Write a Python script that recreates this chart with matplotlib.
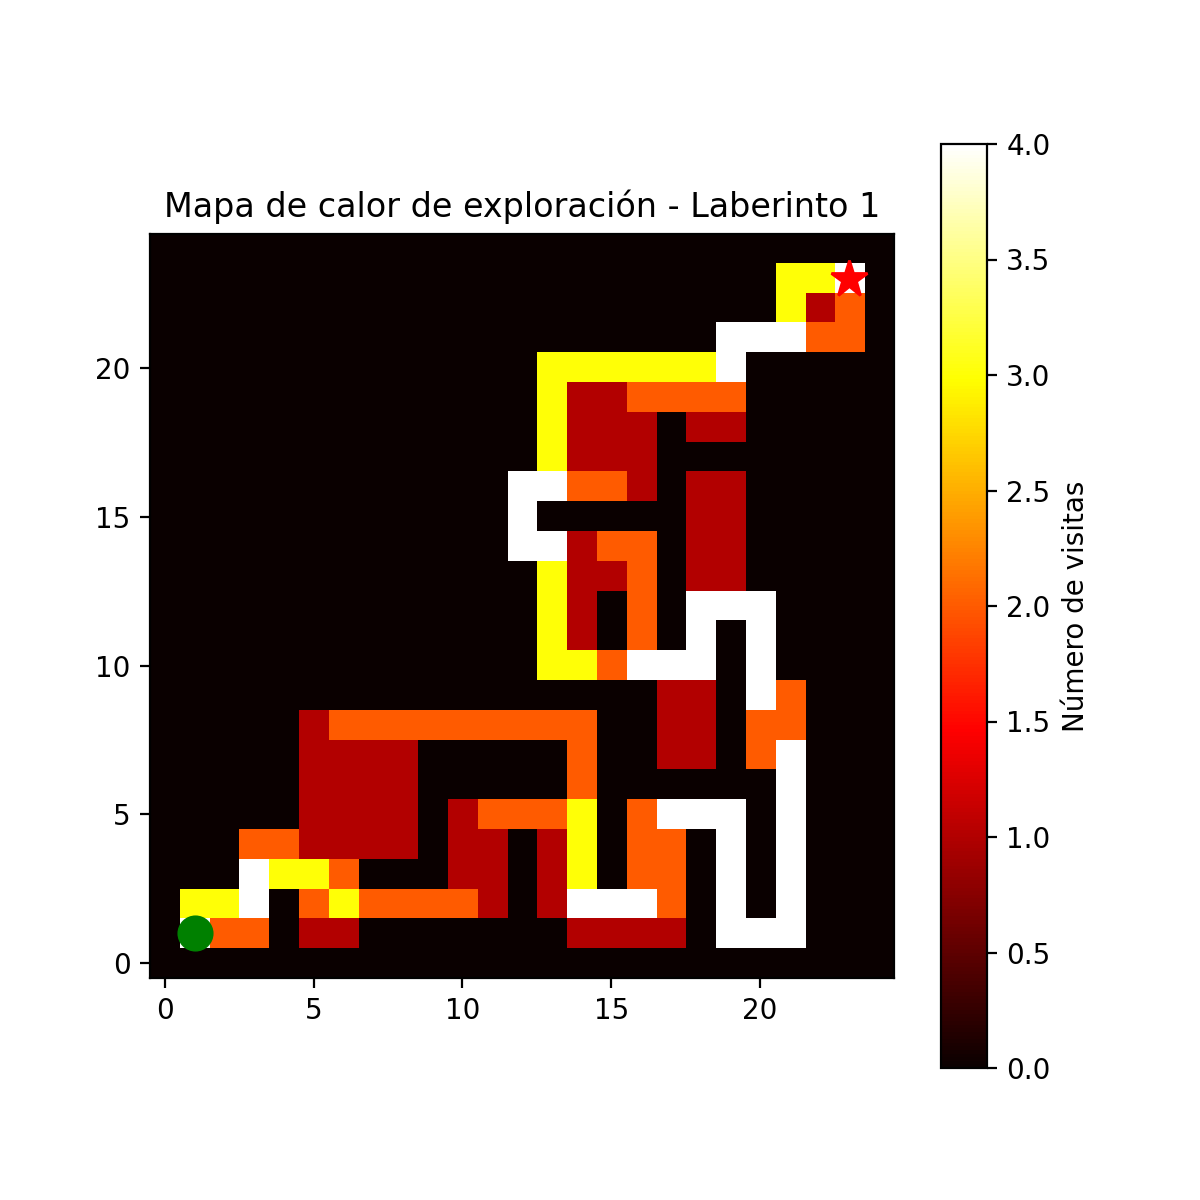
import numpy as np
import matplotlib

matplotlib.use("Agg")
import matplotlib.pyplot as plt

# visit counts per cell, written top row (y=24) first
visitas_filas = [
    "0000000000000000000000000",
    "0000000000000000000003340",
    "0000000000000000000003120",
    "0000000000000000000444220",
    "0000000000000333333400000",
    "0000000000000311222200000",
    "0000000000000311101100000",
    "0000000000000311100000000",
    "0000000000004422101100000",
    "0000000000004000001100000",
    "0000000000004412201100000",
    "0000000000000311201100000",
    "0000000000000310204440000",
    "0000000000000310204040000",
    "0000000000000332444040000",
    "0000000000000000011042000",
    "0000012222222220011022000",
    "0000011110000020011024000",
    "0000011110000020000004000",
    "0000011110122230244404000",
    "0002211110110130220404000",
    "0004332000110130220404000",
    "0334023222210144420404000",
    "0422011000000011110444000",
    "0000000000000000000000000",
]

inicio = (1, 1)
meta = (23, 23)

visitas = np.flipud(np.array([[int(c) for c in fila] for fila in visitas_filas]))

fig = plt.figure(figsize=(6, 6), dpi=200)
plt.imshow(visitas, cmap="hot", origin="lower", vmin=0, vmax=4)
plt.colorbar(label="Número de visitas")
plt.plot(meta[0], meta[1], "r*", markersize=14)
plt.plot(inicio[0], inicio[1], "go", markersize=12)
plt.title("Mapa de calor de exploración - Laberinto 1")
fig.savefig("out.png", dpi=200)
